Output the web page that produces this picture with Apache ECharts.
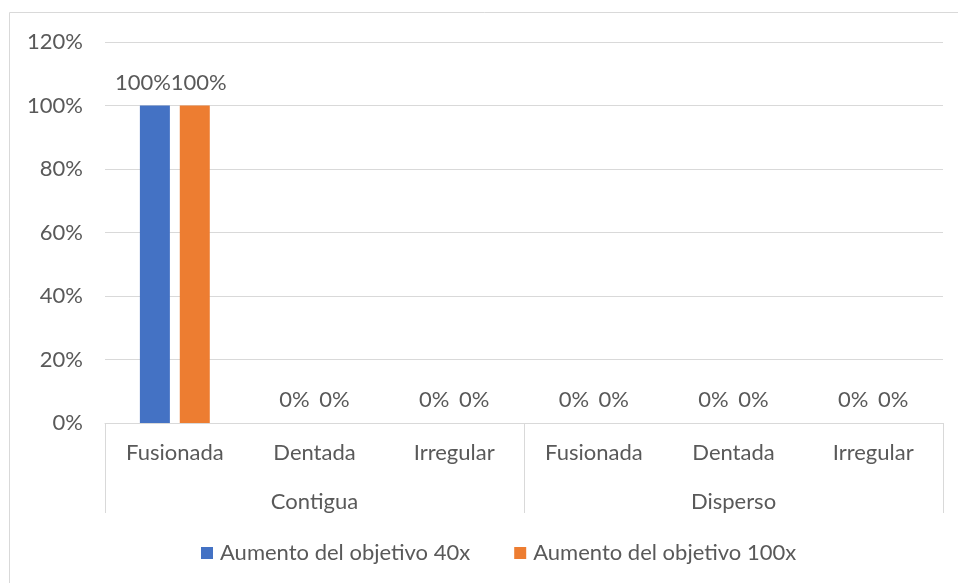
<!DOCTYPE html>
<html>
<head>
<meta charset="utf-8">
<script src="https://cdn.jsdelivr.net/npm/echarts@6/dist/echarts.min.js"></script>
<style>
html,body{margin:0;padding:0;background:#fff;}
#c{width:958px;height:583px;}
</style>
</head>
<body>
<div id="c"></div>
<script>
const categories = ['Fusionada','Dentada','Irregular','Fusionada','Dentada','Irregular'];
const groups = ['Contigua','Disperso'];
const seriesNames = ['Aumento del objetivo 40x','Aumento del objetivo 100x'];
const values40x = [100,0,0,0,0,0];
const values100x = [100,0,0,0,0,0];
const yMin = 0, yMax = 120, yStep = 20;

const FONT = 'Lato';
const FS = 22;
const TXT = '#595959';
const LINE = '#d9d9d9';
const chart = echarts.init(document.getElementById('c'));
const labelCfg = {show:true, position:'top', distance:12, color:TXT, fontFamily:FONT, fontSize:FS, formatter:p=>p.value+'%'};
// wide labels (e.g. "100%") would overlap the neighbour's label: nudge them apart
const labelLayout = p => (p.labelRect.width > 40 ? {dx: p.seriesIndex === 0 ? -12 : 4} : {});
chart.setOption({
  animation:false,
  textStyle:{fontFamily:FONT},
  graphic:[{type:'rect', shape:{x:9.5,y:12.5,width:1000,height:1000}, style:{fill:'none',stroke:LINE,lineWidth:1}, z:-1}],
  grid:{left:105,right:15,top:42,bottom:160},
  legend:{
    bottom:14, left:196, itemWidth:12, itemHeight:12, itemGap:44, icon:'rect',
    textStyle:{color:TXT,fontFamily:FONT,fontSize:FS, padding:[0,0,0,2]},
    data:seriesNames
  },
  xAxis:[
    {type:'category', data:categories, position:'bottom',
     axisLine:{show:true,lineStyle:{color:LINE,width:1}}, axisTick:{show:false},
     axisLabel:{color:TXT,fontFamily:FONT,fontSize:FS,margin:19,interval:0}},
    {type:'category', data:groups, position:'bottom', offset:0,
     axisLine:{show:false}, axisTick:{show:true,length:90,lineStyle:{color:LINE}},
     axisLabel:{color:TXT,fontFamily:FONT,fontSize:FS,margin:68}}
  ],
  yAxis:{type:'value', min:yMin, max:yMax, interval:yStep,
    axisLine:{show:false}, axisTick:{show:false},
    axisLabel:{color:TXT,fontFamily:FONT,fontSize:FS,margin:22,formatter:'{value}%'},
    splitLine:{lineStyle:{color:LINE,width:1}}},
  series:[
    {name:seriesNames[0], type:'bar', data:values40x, barWidth:30, barGap:'33%', itemStyle:{color:'#4472C4'}, label:labelCfg, labelLayout:labelLayout},
    {name:seriesNames[1], type:'bar', data:values100x, barWidth:30, barGap:'33%', itemStyle:{color:'#ED7D31'}, label:labelCfg, labelLayout:labelLayout}
  ]
});
</script>
</body>
</html>
